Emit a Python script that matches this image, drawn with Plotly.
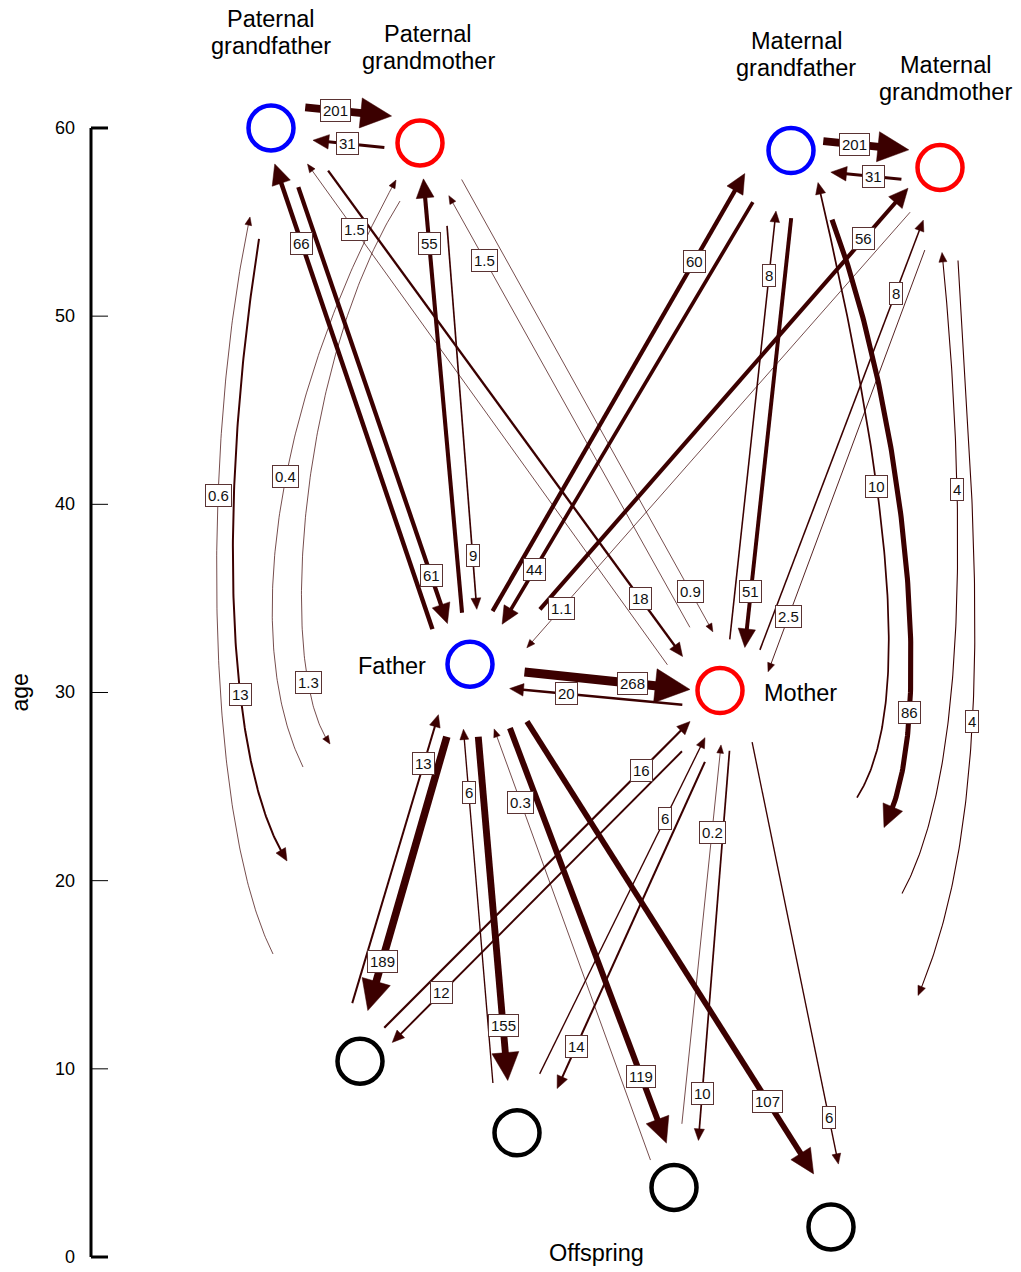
import numpy as np
import plotly.graph_objects as go

# ---------------- data ----------------
node_ids = ["PGF", "PGM", "MGF", "MGM", "F", "M", "O1", "O2", "O3", "O4"]
node_age = [60.0, 59.2, 58.8, 57.9, 31.5, 30.1, 10.4, 6.6, 3.7, 1.6]
node_kind = ["male", "female", "male", "female", "male", "female", "child", "child", "child", "child"]

edge_from = ["PGF", "PGM", "MGF", "MGM", "F", "M", "F", "PGF", "F", "PGM", "M", "M",
             "PGF", "PGM", "F", "MGF", "F", "MGM", "M", "MGF", "M", "MGM",
             "F", "O1", "F", "O2", "F", "O3", "F", "O1", "M", "O2", "M", "O3", "M", "M"]
edge_to = ["PGM", "PGF", "MGM", "MGF", "M", "F", "PGF", "F", "PGM", "F", "PGF", "PGM",
           "M", "M", "MGF", "F", "MGM", "F", "MGF", "M", "MGM", "M",
           "O1", "F", "O2", "F", "O3", "F", "O4", "M", "O1", "M", "O2", "M", "O3", "O4"]
edge_value = [201, 31, 201, 31, 268, 20, 66, 61, 55, 9, 1.5, 1.5,
              18, 0.9, 60, 44, 56, 1.1, 8, 51, 8, 2.5,
              189, 13, 155, 6, 119, 0.3, 107, 16, 12, 6, 14, 0.2, 10, 6]

# grandparent <-> offspring flows (curved arrows)
curve_node = ["PGF", "PGF", "PGM", "PGM", "MGF", "MGF", "MGM", "MGM"]
curve_dir = ["out", "in", "out", "in", "out", "in", "in", "out"]
curve_value = [13, 0.6, 1.3, 0.4, 86, 10, 4, 4]

age_ticks = [0, 10, 20, 30, 40, 50, 60]

# ---------------- layout / geometry (pixels) ----------------
W, Hgt = 1021, 1272
Y0, K = 1257.0, 18.817               # pixel row of age 0, pixels per year
node_x = {"PGF": 271, "PGM": 420, "MGF": 791, "MGM": 940, "F": 470, "M": 720,
          "O1": 360, "O2": 517, "O3": 674, "O4": 831}
# per edge: start gap, start offset, end gap, end offset, label position
edge_geom = [(32, 24, 31, 24, .35), (35, 8, 43, 8, .52), (31, 13, 33, 14, .37), (37, 16, 42, 17, .40),
             (55, -2, 30, -2, .65), (36, 18, 42, 20, .67), (46, 23, 35, 9, .83), (65, 5, 46, -7, .89),
             (52, 3, 36, 0, .85), (85, 19, 54, 12, .86), (53, 25, 51, -6, .87), (70, -4, 60, 0, .85),
             (69, 18, 50, -8, .88), (52, 19, 55, 22, .91), (57, 9, 44, 27, .80), (64, -5, 51, 6, .87),
             (88, -13, 37, 9, .88), (53, 9, 51, 30, .91), (52, -3, 62, 7, .85), (67, 9, 46, 19, .87),
             (53, -21, 55, -5, .83), (82, 18, 36, 37, .87),
             (76, -3, 51, -6, .82), (54, 23, 57, 17, .83), (73, 1, 53, -4, .84), (52, 19, 64, 13, .82),
             (74, 14, 44, 9, .84), (34, 12, 69, 1, .83), (79, 17, 54, 14, .84), (41, 6, 43, 0, .84),
             (70, 15, 36, 10, .83), (63, 4, 49, -6, .76), (71, 16, 57, 18, .87), (64, -2, 54, -6, .77),
             (59, 15, 49, 20, .88), (57, 21, 60, 20, .89)]
# cubic control points relative to the grandparent node (px), tip last; label t
curve_geom = [([(-12, 111), (-56, 391), (-43, 641), (16, 733)], .62),
              ([(2, 826), (-66, 691), (-71, 321), (-21, 89)], .65),
              ([(-20, 58), (-120, 216), (-145, 526), (-90, 601)], .82),
              ([(-117, 624), (-180, 496), (-145, 256), (-24, 37)], .55),
              ([(41, 69), (109, 249), (150, 569), (93, 677)], .75),
              ([(66, 647), (129, 549), (89, 299), (27, 32)], .60),
              ([(-38, 726), (35, 593), (22, 283), (2, 85)], .65),
              ([(18, 93), (32, 333), (62, 633), (-22, 828)], .60)]

ARROW = "#3b0000"
FONT = "Liberation Sans, Arial, sans-serif"
kind_color = {"male": "#0000ff", "female": "#ff0000", "child": "#000000"}


def to_px(x, age):
    return np.array([float(x), Y0 - K * age])


def to_age(py):
    return (Y0 - py) / K


age_of = dict(zip(node_ids, node_age))
node_px = {n: to_px(node_x[n], age_of[n]) for n in node_ids}


def width_for(v):
    return max(0.7, 0.55 * np.sqrt(v))


fig = go.Figure()
heads_x, heads_y = [], []
annotations = []


def add_label(p, v):
    annotations.append(dict(x=p[0], y=to_age(p[1]), xref="x", yref="y", text=f"{v:g}",
                            showarrow=False, font=dict(family=FONT, size=15, color="#111111"),
                            bgcolor="white", bordercolor="#5a3333", borderwidth=1, borderpad=2))


def add_arrow(pts, v):
    pts = np.asarray(pts, dtype=float)
    w = width_for(v)
    L, Hh = 6 + 3.2 * w, 2.2 + 1.65 * w
    seg = np.sqrt(((pts[1:] - pts[:-1]) ** 2).sum(1))
    dfe = np.concatenate([np.cumsum(seg[::-1])[::-1], [0.0]])
    tip = pts[-1]
    base = np.array([np.interp(L, dfe[::-1], pts[::-1, 0]), np.interp(L, dfe[::-1], pts[::-1, 1])])
    keep = pts[dfe > L * 0.8]
    shaft = np.vstack([keep, tip + (base - tip) * 0.8])
    fig.add_trace(go.Scatter(x=shaft[:, 0], y=to_age(shaft[:, 1]), mode="lines",
                             line=dict(color=ARROW, width=w), hoverinfo="skip", showlegend=False))
    d = (tip - base) / np.linalg.norm(tip - base)
    nrm = np.array([-d[1], d[0]])
    c1, c2 = base + Hh * nrm, base - Hh * nrm
    for p in (tip, c1, c2, tip):
        heads_x.append(p[0])
        heads_y.append(to_age(p[1]))
    heads_x.append(None)
    heads_y.append(None)


# straight arrows between individuals
for src, tgt, v, (gs, os_, ge, oe, lt) in zip(edge_from, edge_to, edge_value, edge_geom):
    A, B = node_px[src], node_px[tgt]
    d = (B - A) / np.linalg.norm(B - A)
    n = np.array([d[1], -d[0]])
    S = A + gs * d + os_ * n
    E = B - ge * d + oe * n
    add_arrow([S, E], v)
    add_label(S + lt * (E - S), v)

# curved arrows grandparent <-> offspring
t = np.linspace(0, 1, 160)[:, None]
for node, v, (ctrl, lt) in zip(curve_node, curve_value, curve_geom):
    P = [node_px[node] + np.array(c, dtype=float) for c in ctrl]

    def bez(tt):
        return ((1 - tt) ** 3) * P[0] + 3 * ((1 - tt) ** 2) * tt * P[1] + 3 * (1 - tt) * tt ** 2 * P[2] + tt ** 3 * P[3]

    add_arrow(bez(t), v)
    add_label(bez(lt), v)

fig.add_trace(go.Scatter(x=heads_x, y=heads_y, mode="lines", fill="toself", fillcolor=ARROW,
                         line=dict(color=ARROW, width=0.5), hoverinfo="skip", showlegend=False))

# nodes
fig.add_trace(go.Scatter(x=[node_x[n] for n in node_ids], y=node_age, mode="markers",
                         marker=dict(symbol="circle", size=45, color="white",
                                     line=dict(width=4.5, color=[kind_color[k] for k in node_kind])),
                         hoverinfo="skip", showlegend=False))

# node names
name_lines = {"PGF": (["Paternal", "grandfather"], 0, -109), "PGM": (["Paternal", "grandmother"], 8, -109),
              "MGF": (["Maternal", "grandfather"], 5, -110), "MGM": (["Maternal", "grandmother"], 5, -103)}
for nid, (lines, dx, dy) in name_lines.items():
    for i, txt in enumerate(lines):
        p = node_px[nid] + np.array([dx, dy + 27 * i])
        annotations.append(dict(x=p[0], y=to_age(p[1]), xref="x", yref="y", text=txt, showarrow=False,
                                font=dict(family=FONT, size=23.5, color="black")))
for nid, txt, dx in (("F", "Father", -78), ("M", "Mother", 80)):
    p = node_px[nid] + np.array([dx, 2])
    annotations.append(dict(x=p[0], y=to_age(p[1]), xref="x", yref="y", text=txt, showarrow=False,
                            font=dict(family=FONT, size=23.5, color="black")))
annotations.append(dict(x=596, y=to_age(1253), xref="x", yref="y", text="Offspring", showarrow=False,
                        font=dict(family=FONT, size=23.5, color="black")))

# age axis
AX = 91
shapes = [dict(type="line", xref="x", yref="y", x0=AX, x1=AX, y0=age_ticks[0], y1=age_ticks[-1],
               line=dict(color="black", width=3))]
for a in age_ticks:
    end = a in (age_ticks[0], age_ticks[-1])
    shapes.append(dict(type="line", xref="x", yref="y", x0=AX, x1=AX + 17, y0=a, y1=a,
                       line=dict(color="black", width=3 if end else 1)))
    annotations.append(dict(x=AX - 14, y=a, xref="x", yref="y", text=str(a), showarrow=False,
                            xanchor="right", font=dict(family=FONT, size=18, color="black")))
annotations.append(dict(x=20, y=30, xref="x", yref="y", text="age", textangle=-90, showarrow=False,
                        font=dict(family=FONT, size=23, color="black")))

fig.update_layout(width=W, height=Hgt, autosize=False, margin=dict(l=0, r=0, t=0, b=0),
                  paper_bgcolor="white", plot_bgcolor="white", showlegend=False,
                  xaxis=dict(range=[0, W], visible=False, fixedrange=True),
                  yaxis=dict(range=[to_age(Hgt), to_age(0)], visible=False, fixedrange=True),
                  shapes=shapes, annotations=annotations)

fig.write_html("out.html", config={"displayModeBar": False, "staticPlot": True},
               post_script="document.body.style.margin='0';document.body.style.overflow='hidden';")
